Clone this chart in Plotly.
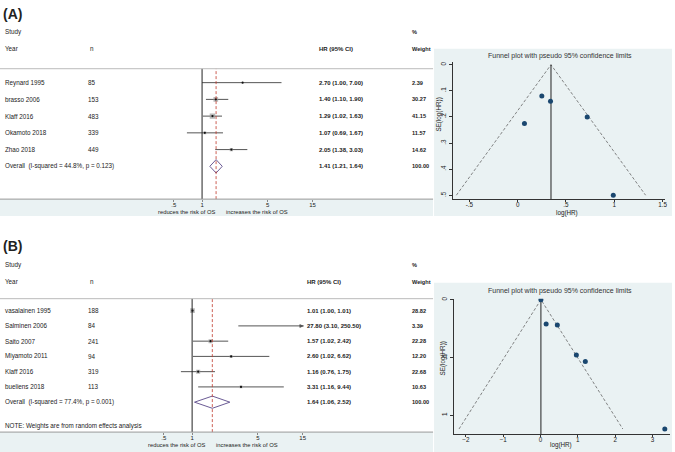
import plotly.graph_objects as go

W, H = 675, 452

# ---- panel A data ----
study_a = ["Reynard 1995", "brasso 2006", "Klaff 2016", "Okamoto 2018", "Zhao 2018"]
n_a = [85, 153, 483, 339, 449]
hr_a = [2.70, 1.40, 1.29, 1.07, 2.05]
lo_a = [1.00, 1.10, 1.02, 0.69, 1.38]
hi_a = [7.00, 1.90, 1.63, 1.67, 3.03]
wt_a = [2.39, 30.27, 41.15, 11.57, 14.62]
overall_a = [1.41, 1.21, 1.64]  # hr, lo, hi
overall_lab_a = "Overall  (I-squared = 44.8%, p = 0.123)"

funnel_a_x = [0.99, 0.34, 0.25, 0.07, 0.72]
funnel_a_y = [0.50, 0.14, 0.12, 0.225, 0.20]
funnel_a_lim_x = [-0.635, 0.345, 1.325]
funnel_a_lim_y = [0.5, 0.0, 0.5]

# ---- panel B data ----
study_b = ["vasalainen 1995", "Salminen 2006", "Saito 2007", "Miyamoto 2011", "Klaff 2016", "bueliens 2018"]
n_b = [188, 84, 241, 94, 319, 113]
hr_b = [1.01, 27.80, 1.57, 2.60, 1.16, 3.31]
lo_b = [1.00, 3.10, 1.02, 1.02, 0.76, 1.16]
hi_b = [1.01, 250.50, 2.42, 6.62, 1.75, 9.44]
wt_b = [28.82, 3.39, 22.28, 12.20, 22.68, 10.63]
overall_b = [1.64, 1.06, 2.52]
overall_lab_b = "Overall  (I-squared = 77.4%, p = 0.001)"

funnel_b_x = [0.01, 3.33, 0.45, 0.96, 0.15, 1.20]
funnel_b_y = [0.0, 1.12, 0.22, 0.48, 0.21, 0.535]
funnel_b_lim_x = [-2.185, 0.01, 2.205]
funnel_b_lim_y = [1.12, 0.0, 1.12]

forest_ticks = [0.5, 1, 5, 15]
forest_ticktext = [".5", "1", "5", "15"]

FONT = "Liberation Sans, Arial, sans-serif"
BG = "#eaf2f3"
NAVY = "#1a476f"
RED = "#c0392b"


def px(x):
    return x / W


def py(y):
    return 1 - y / H


fig = go.Figure()
ann = []
shapes = []


def txt(x, y, s, size=6.3, bold=False, xref="paper", yref="paper", xanchor="left", angle=0):
    if bold:
        s = "<b>" + s + "</b>"
    ann.append(dict(x=x, y=y, xref=xref, yref=yref, text=s, showarrow=False,
                    xanchor=xanchor, yanchor="middle", textangle=angle,
                    font=dict(size=size, family=FONT, color="#222")))


def forest(studies, ns, hr, lo, hi, wt, overall, overall_lab, ax, top, bottom, hr_x, head_y, note=None, band_bottom=None):
    xa = "x" + ax if ax != "1" else "x"
    ya = "y" + ax if ax != "1" else "y"
    rows = list(range(1, len(studies) + 1))
    orow = len(studies) + 1
    # CI lines
    xs, ys = [], []
    for r, l, h in zip(rows, lo, hi):
        xs += [l, h, None]
        ys += [r, r, None]
    fig.add_trace(go.Scatter(x=xs, y=ys, mode="lines", line=dict(color="#555", width=1),
                             xaxis=xa, yaxis=ya, showlegend=False, hoverinfo="skip"))
    # weight boxes
    fig.add_trace(go.Scatter(x=hr, y=rows, mode="markers",
                             marker=dict(symbol="square", color="#9a9a9a", size=[0.85 * w ** 0.5 for w in wt],
                                         line=dict(width=0)),
                             xaxis=xa, yaxis=ya, showlegend=False))
    fig.add_trace(go.Scatter(x=hr, y=rows, mode="markers", marker=dict(color="#111", size=2.2),
                             xaxis=xa, yaxis=ya, showlegend=False))
    # diamond
    o_hr, o_lo, o_hi = overall
    fig.add_trace(go.Scatter(x=[o_lo, o_hr, o_hi, o_hr, o_lo], y=[orow, orow - 0.4, orow, orow + 0.4, orow],
                             mode="lines", line=dict(color="#6b5b95", width=1),
                             xaxis=xa, yaxis=ya, showlegend=False))
    # arrows for clipped CIs
    for r, h in zip(rows, hi):
        if h > forest_ticks[-1]:
            ann.append(dict(x=1, y=r, xref=xa + " domain", yref=ya, ax=-6, ay=0, axref="pixel", ayref="pixel",
                            showarrow=True, arrowhead=2, arrowsize=1, arrowwidth=0.8, arrowcolor="#555", text=""))
    # null line and overall dashed line
    shapes.append(dict(type="line", xref=xa, yref=ya + " domain", x0=1, x1=1, y0=0, y1=1,
                       line=dict(color="#222", width=1)))
    shapes.append(dict(type="line", xref=xa, yref=ya + " domain", x0=o_hr, x1=o_hr, y0=0, y1=1,
                       line=dict(color=RED, width=0.8, dash="3px,2px")))
    # header/top and axis lines, band
    shapes.append(dict(type="line", xref="paper", yref="paper", x0=0, x1=px(435), y0=py(top), y1=py(top),
                       line=dict(color="#bbb", width=1)))
    shapes.append(dict(type="rect", xref="paper", yref="paper", x0=0, x1=px(435), y0=py(band_bottom), y1=py(bottom),
                       fillcolor=BG, line=dict(width=0), layer="below"))
    shapes.append(dict(type="line", xref="paper", yref="paper", x0=0, x1=px(435), y0=py(bottom), y1=py(bottom),
                       line=dict(color="#999", width=1)))
    # text columns
    for r, s, n, h, l, u, w in zip(rows, studies, ns, hr, lo, hi, wt):
        txt(px(3), r, s, yref=ya)
        txt(px(86), r, str(n), yref=ya)
        txt(px(hr_x), r, f"{h:.2f} ({l:.2f}, {u:.2f})", size=6, bold=True, yref=ya)
        txt(px(412), r, f"{w:.2f}", size=5.6, bold=True, yref=ya)
    txt(px(3), orow, overall_lab, yref=ya)
    txt(px(hr_x), orow, f"{o_hr:.2f} ({o_lo:.2f}, {o_hi:.2f})", size=6, bold=True, yref=ya)
    txt(px(412), orow, "100.00", size=5.6, bold=True, yref=ya)
    # headers
    txt(px(3), py(head_y), "Study")
    txt(px(3), py(head_y + 17), "Year")
    txt(px(88), py(head_y + 17), "n")
    txt(px(hr_x), py(head_y + 17), "HR (95% CI)", size=6, bold=True)
    txt(px(412), py(head_y), "%", size=5.6, bold=True)
    txt(px(412), py(head_y + 17), "Weight", size=5.6, bold=True)
    if note:
        txt(px(3), py(note[1]), note[0])


def funnel(fx, fy, limx, limy, ax, yr):
    xa = "x" + ax
    ya = "y" + ax
    fig.add_trace(go.Scatter(x=limx, y=limy, mode="lines", line=dict(color="#666", width=0.8, dash="3px,2px"),
                             xaxis=xa, yaxis=ya, showlegend=False))
    fig.add_trace(go.Scatter(x=[limx[1], limx[1]], y=[limy[1], yr[0]], mode="lines",
                             line=dict(color="#222", width=1), xaxis=xa, yaxis=ya, showlegend=False))
    fig.add_trace(go.Scatter(x=fx, y=fy, mode="markers", marker=dict(color=NAVY, size=5),
                             xaxis=xa, yaxis=ya, showlegend=False))


forest(study_a, n_a, hr_a, lo_a, hi_a, wt_a, overall_a, overall_lab_a, "1", 67, 198, 318, 30, band_bottom=215)
forest(study_b, n_b, hr_b, lo_b, hi_b, wt_b, overall_b, overall_lab_b, "3", 298, 432, 306, 264,
       note=("NOTE: Weights are from random effects analysis", 426), band_bottom=452)

funnel(funnel_a_x, funnel_a_y, funnel_a_lim_x, funnel_a_lim_y, "2", [0.515, -0.0115])
funnel(funnel_b_x, funnel_b_y, funnel_b_lim_x, funnel_b_lim_y, "4", [1.164, -0.0086])

# funnel backgrounds and titles
for top, bottom, ty in [(47, 215, 54), (282, 452, 290)]:
    shapes.append(dict(type="rect", xref="paper", yref="paper", x0=px(436), x1=1, y0=py(bottom), y1=py(top),
                       fillcolor=BG, line=dict(width=0), layer="below"))
    ann.append(dict(x=px(563), y=py(ty), xref="paper", yref="paper", showarrow=False,
                    text="Funnel plot with pseudo 95% confidence limits",
                    font=dict(size=7, family=FONT, color="#333"), xanchor="center", yanchor="middle"))

# axis footer labels
for lx, rx, yy in [(187, 258, 211), (177, 248, 445)]:
    txt(px(lx), py(yy), "reduces the risk of OS", size=5.8, xanchor="center")
    txt(px(rx), py(yy), "increases the risk of OS", size=5.8, xanchor="center")

# panel labels
txt(px(1), py(12), "(A)", size=14, bold=True)
txt(px(1), py(245), "(B)", size=14, bold=True)

# funnel axis titles
txt(px(570), py(212), "log(HR)", size=6.3, xanchor="center")
txt(px(564), py(445), "log(HR)", size=6.3, xanchor="center")
txt(px(440), py(113), "SE(log(HR))", size=6.3, xanchor="center", angle=-90)
txt(px(445), py(358), "SE(log(HR))", size=6.3, xanchor="center", angle=-90)

forest_x = dict(type="log", showgrid=False, showline=False, zeroline=False, tickvals=forest_ticks,
                ticktext=forest_ticktext, ticks="outside", ticklen=2, tickcolor="#888", ticklabelstandoff=-2,
                tickfont=dict(size=6, family=FONT, color="#222"))
hidden_y = dict(showgrid=False, showticklabels=False, zeroline=False, showline=False)
funnel_x = dict(showgrid=False, zeroline=False, showline=True, linecolor="#333", linewidth=1, ticks="outside",
                ticklen=2, tickcolor="#333", ticklabelstandoff=-3,
                tickfont=dict(size=6.3, family=FONT, color="#222"))
funnel_y = dict(showgrid=True, gridcolor=BG, zeroline=False, showline=True, linecolor="#333", linewidth=1,
                ticks="outside", ticklen=3, tickcolor="#333", tickangle=-90,
                tickfont=dict(size=6.3, family=FONT, color="#222"))

fig.update_layout(
    width=W, height=H, margin=dict(l=0, r=0, t=0, b=0),
    paper_bgcolor="white", plot_bgcolor="white", showlegend=False,
    xaxis=dict(forest_x, domain=[px(160), px(316)], range=[-0.455, 1.197], anchor="y"),
    yaxis=dict(hidden_y, domain=[py(198), py(67)], range=[7.96, 0.167], anchor="x"),
    xaxis3=dict(forest_x, domain=[px(150), px(305)], range=[-0.455, 1.186], anchor="y3"),
    yaxis3=dict(hidden_y, domain=[py(432), py(298)], range=[8.96, 0.217], anchor="x3"),
    xaxis2=dict(funnel_x, domain=[px(455), px(668)], range=[-0.670, 1.526], anchor="y2",
                tickvals=[-0.5, 0, 0.5, 1, 1.5], ticktext=["-.5", "0", ".5", "1", "1.5"]),
    yaxis2=dict(funnel_y, domain=[py(198), py(60)], range=[0.515, -0.0115], anchor="x2",
                tickvals=[0, 0.1, 0.2, 0.3, 0.4, 0.5], ticktext=["0", ".1", ".2", ".3", ".4", ".5"]),
    xaxis4=dict(funnel_x, domain=[px(456), px(673)], range=[-2.32, 3.47], anchor="y4",
                tickvals=[-2, -1, 0, 1, 2, 3]),
    yaxis4=dict(funnel_y, domain=[py(434), py(298)], range=[1.164, -0.0086], anchor="x4",
                tickvals=[0, 0.5, 1], ticktext=["0", ".5", "1"]),
    annotations=ann, shapes=shapes,
)

# page margin off so the 675x452 figure fills the window
fig.write_html("out.html", config={"displayModeBar": False},
               post_script="document.body.style.margin='0';")
